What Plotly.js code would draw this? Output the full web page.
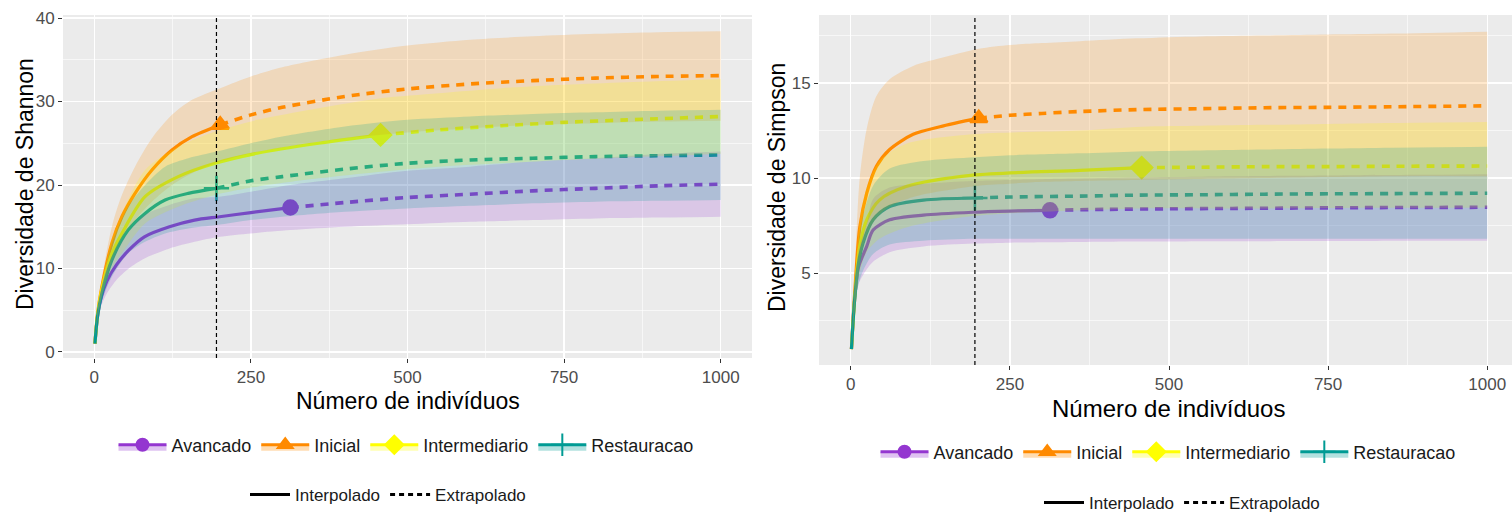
<!DOCTYPE html>
<html><head><meta charset="utf-8">
<script src="https://cdn.plot.ly/plotly-3.0.1.min.js"></script>
<style>html,body{margin:0;padding:0;background:#fff;overflow:hidden}#chart{width:1512px;height:513px}</style>
</head><body><div id="chart"></div>
<script>
// ---------------- DATA ----------------
const groups = ['Avancado', 'Inicial', 'Intermediario', 'Restauracao'];
const observedN = [313, 201, 457, 195];   // observed sample sizes (end of interpolation)
const refSize = 195;                       // reference sample size (vertical dashed line)
const xTicks = [0, 250, 500, 750, 1000];
const lineTypes = ['Interpolado', 'Extrapolado'];
const xTitle = 'Número de indivíduos';
const yTitles = ['Diversidade de Shannon', 'Diversidade de Simpson'];

// Shannon diversity (left panel)
const sh_x_av   = [1, 5, 10, 20, 35, 55, 80, 120, 160, 200, 250, 313, 400, 500, 600, 700, 800, 900, 1000];
const sh_est_av = [1, 4.2, 6.3, 8.5, 10.4, 12.2, 13.8, 15.0, 15.8, 16.2, 16.7, 17.3, 17.9, 18.5, 18.9, 19.3, 19.6, 19.9, 20.1];
const sh_lo_av  = [1, 3.6, 5.3, 7.0, 8.6, 10.0, 11.2, 12.4, 13.2, 13.8, 14.2, 14.6, 15.0, 15.3, 15.6, 15.8, 16.0, 16.1, 16.2];
const sh_hi_av  = [1, 4.8, 7.3, 10.0, 12.2, 14.4, 16.4, 17.6, 18.4, 18.6, 19.2, 20.0, 20.8, 21.7, 22.2, 22.8, 23.2, 23.7, 24.0];

const sh_x_in   = [1, 5, 12, 28, 44, 65, 92, 124, 156, 201, 250, 300, 400, 500, 600, 700, 800, 900, 1000];
const sh_est_in = [1, 4.5, 7.8, 13.0, 16.2, 19.0, 21.8, 24.2, 25.8, 27.2, 28.4, 29.3, 30.6, 31.5, 32.1, 32.5, 32.8, 33.0, 33.1];
const sh_lo_in  = [1, 4.0, 6.8, 11.0, 13.6, 15.8, 18.0, 20.0, 21.4, 22.8, 23.8, 24.5, 25.6, 26.3, 26.8, 27.2, 27.4, 27.6, 27.7];
const sh_hi_in  = [1, 5.0, 8.8, 15.0, 18.8, 22.2, 25.6, 28.4, 30.2, 31.6, 33.0, 34.1, 35.6, 36.7, 37.4, 37.8, 38.1, 38.3, 38.4];

const sh_x_im   = [1, 5, 12, 28, 44, 81, 134, 193, 260, 358, 457, 550, 650, 750, 850, 1000];
const sh_est_im = [1, 4.3, 7.5, 11.8, 14.2, 18.6, 21.0, 22.6, 23.8, 25.0, 26.0, 26.6, 27.1, 27.5, 27.8, 28.2];
const sh_lo_im  = [1, 3.9, 6.6, 10.0, 11.8, 15.4, 17.4, 18.8, 19.8, 20.8, 21.6, 22.2, 22.6, 23.0, 23.3, 23.7];
const sh_hi_im  = [1, 4.7, 8.4, 13.6, 16.6, 21.8, 24.6, 26.4, 27.8, 29.2, 30.4, 31.0, 31.6, 32.0, 32.3, 32.7];

const sh_x_re   = [1, 5, 12, 28, 54, 81, 113, 150, 195, 250, 300, 400, 500, 600, 700, 800, 900, 1000];
const sh_est_re = [1, 4.2, 7.0, 11.0, 14.6, 16.6, 18.2, 19.0, 19.6, 20.5, 21.0, 21.9, 22.6, 23.0, 23.2, 23.4, 23.5, 23.6];
const sh_lo_re  = [1, 3.7, 6.0, 9.0, 11.8, 13.2, 14.2, 14.8, 15.2, 15.8, 16.2, 16.8, 17.2, 17.5, 17.8, 18.0, 18.1, 18.2];
const sh_hi_re  = [1, 4.7, 8.0, 13.0, 17.4, 20.0, 22.2, 23.2, 24.0, 25.0, 25.8, 27.0, 27.8, 28.2, 28.5, 28.7, 28.9, 29.0];

// Simpson diversity (right panel)
const si_x_av   = [1, 5, 12, 25, 35, 61, 114, 192, 250, 313, 400, 500, 600, 700, 800, 900, 1000];
const si_est_av = [1, 3.2, 5.3, 6.4, 7.26, 7.8, 8.05, 8.2, 8.26, 8.3, 8.35, 8.38, 8.4, 8.42, 8.44, 8.45, 8.46];
const si_lo_av  = [1, 2.8, 4.4, 5.2, 5.6, 6.1, 6.4, 6.55, 6.6, 6.62, 6.65, 6.66, 6.67, 6.68, 6.69, 6.7, 6.7];
const si_hi_av  = [1, 3.6, 6.2, 7.6, 8.9, 9.5, 9.7, 9.85, 9.9, 9.95, 10.0, 10.05, 10.1, 10.12, 10.15, 10.17, 10.2];

const si_x_in   = [1, 6, 14, 25, 40, 61, 98, 140, 201, 250, 300, 360, 450, 550, 650, 750, 850, 1000];
const si_est_in = [1, 3.9, 7.4, 9.2, 10.6, 11.5, 12.3, 12.7, 13.15, 13.3, 13.4, 13.5, 13.6, 13.65, 13.7, 13.72, 13.75, 13.8];
const si_lo_in  = [1, 3.0, 5.6, 7.0, 7.9, 8.5, 9.0, 9.3, 9.6, 9.7, 9.8, 9.85, 9.9, 9.95, 10.0, 10.05, 10.1, 10.1];
const si_hi_in  = [1, 4.8, 10.0, 12.6, 14.3, 15.2, 15.9, 16.3, 16.8, 17.0, 17.1, 17.2, 17.35, 17.45, 17.5, 17.55, 17.6, 17.7];

const si_x_im   = [1, 6, 14, 25, 45, 87, 192, 360, 457, 550, 650, 750, 850, 1000];
const si_est_im = [1, 3.6, 6.4, 7.8, 8.84, 9.55, 10.15, 10.4, 10.55, 10.57, 10.6, 10.6, 10.62, 10.63];
const si_lo_im  = [1, 3.0, 5.0, 6.1, 6.8, 7.4, 8.0, 8.3, 8.4, 8.4, 8.4, 8.42, 8.43, 8.45];
const si_hi_im  = [1, 4.2, 7.8, 9.5, 10.9, 11.8, 12.3, 12.5, 12.7, 12.75, 12.8, 12.85, 12.9, 12.95];

const si_x_re   = [1, 6, 12, 19, 35, 61, 114, 195, 250, 360, 450, 550, 650, 750, 850, 1000];
const si_est_re = [1, 3.6, 5.5, 6.56, 7.8, 8.5, 8.84, 8.95, 9.0, 9.05, 9.1, 9.12, 9.15, 9.17, 9.18, 9.2];
const si_lo_re  = [1, 3.0, 4.4, 5.1, 6.0, 6.5, 6.7, 6.8, 6.8, 6.8, 6.8, 6.8, 6.8, 6.8, 6.8, 6.8];
const si_hi_re  = [1, 4.2, 6.6, 8.0, 9.6, 10.5, 10.9, 11.1, 11.2, 11.3, 11.4, 11.45, 11.5, 11.55, 11.6, 11.65];

// ---------------- STYLE ----------------
const colors = [[148, 54, 208], [255, 138, 0], [255, 255, 0], [0, 155, 148]];
const symbols = ['circle', 'triangle-up', 'diamond', 'cross-thin-open'];
const symSize = [14, 15, 16, 18];
const FONT = 'Liberation Sans, Arial, sans-serif';
const rgb = c => `rgb(${c[0]},${c[1]},${c[2]})`;
const rgba = (c, a) => `rgba(${c[0]},${c[1]},${c[2]},${a})`;
const SPL = {shape: 'spline', smoothing: 0.8};

const panels = [
  {xa: 'x', ya: 'y', sets: [
    [sh_x_av, sh_est_av, sh_lo_av, sh_hi_av], [sh_x_in, sh_est_in, sh_lo_in, sh_hi_in],
    [sh_x_im, sh_est_im, sh_lo_im, sh_hi_im], [sh_x_re, sh_est_re, sh_lo_re, sh_hi_re]]},
  {xa: 'x2', ya: 'y2', sets: [
    [si_x_av, si_est_av, si_lo_av, si_hi_av], [si_x_in, si_est_in, si_lo_in, si_hi_in],
    [si_x_im, si_est_im, si_lo_im, si_hi_im], [si_x_re, si_est_re, si_lo_re, si_hi_re]]}
];

const lineTraces = [], ribbonTraces = [];
panels.forEach(p => {
  p.sets.forEach((s, gi) => {
    const [x, est, lo, hi] = s;
    const n = observedN[gi];
    const c = colors[gi];
    const xi = [], yi = [], xe = [], ye = [];
    x.forEach((v, k) => {
      if (v <= n) { xi.push(v); yi.push(est[k]); }
      if (v >= n) { xe.push(v); ye.push(est[k]); }
    });
    lineTraces.push({x: xi, y: yi, xaxis: p.xa, yaxis: p.ya, mode: 'lines', showlegend: false,
      line: Object.assign({color: rgb(c), width: 3.2}, SPL), hoverinfo: 'skip'});
    lineTraces.push({x: xe, y: ye, xaxis: p.xa, yaxis: p.ya, mode: 'lines', showlegend: false,
      line: Object.assign({color: rgb(c), width: 3.6, dash: '8px,7px'}, SPL), hoverinfo: 'skip'});
    lineTraces.push({x: [xi[xi.length - 1]], y: [yi[yi.length - 1]], xaxis: p.xa, yaxis: p.ya, mode: 'markers',
      showlegend: false, hoverinfo: 'skip',
      marker: {symbol: symbols[gi], size: symSize[gi], color: rgb(c), line: {color: rgb(c), width: 2.5}}});
    ribbonTraces.push({x: x, y: lo, xaxis: p.xa, yaxis: p.ya, mode: 'lines', showlegend: false, hoverinfo: 'skip',
      line: Object.assign({width: 0, color: 'rgba(0,0,0,0)'}, SPL)});
    ribbonTraces.push({x: x, y: hi, xaxis: p.xa, yaxis: p.ya, mode: 'lines', fill: 'tonexty', fillcolor: rgba(c, 0.2),
      line: Object.assign({width: 0, color: 'rgba(0,0,0,0)'}, SPL), showlegend: false, hoverinfo: 'skip'});
  });
});

// legend-only traces
const legendTraces = [];
[['legend', 'x', 'y'], ['legend3', 'x2', 'y2']].forEach(([lg, xa, ya]) => {
  groups.forEach((g, gi) => {
    const c = colors[gi];
    legendTraces.push({x: [null], y: [null], xaxis: xa, yaxis: ya, name: g, legend: lg,
      mode: 'lines+markers', fill: 'toself', fillcolor: rgba(c, 0.3),
      line: {color: rgb(c), width: 3},
      marker: {symbol: symbols[gi], size: symSize[gi] - 2, color: rgb(c), line: {color: rgb(c), width: 2}}});
  });
});
[['legend2', 'x', 'y'], ['legend4', 'x2', 'y2']].forEach(([lg, xa, ya]) => {
  lineTypes.forEach((t, ti) => {
    legendTraces.push({x: [null], y: [null], xaxis: xa, yaxis: ya, name: t, legend: lg, mode: 'lines',
      line: {color: '#000', width: 3, dash: ti === 0 ? 'solid' : '5px,4px'}});
  });
});

const tickFont = {family: FONT, size: 17, color: '#4d4d4d'};
function xAxis(domain, range, anchor) {
  return {domain, range, anchor, tickvals: xTicks, ticks: 'outside', ticklen: 4, tickcolor: '#333',
    tickfont: tickFont, showgrid: true, gridcolor: '#fff', gridwidth: 1.3, zeroline: false, showline: false,
    minor: {dtick: 125, tick0: 0, showgrid: true, gridcolor: '#fff', gridwidth: 0.6, ticks: ''}, automargin: false};
}
function yAxis(domain, range, anchor, dtick) {
  return {domain, range, anchor, tick0: 0, dtick, ticks: 'outside', ticklen: 4, tickcolor: '#333',
    tickfont: tickFont, showgrid: true, gridcolor: '#fff', gridwidth: 1.3, zeroline: false, showline: false,
    minor: {dtick: dtick / 2, tick0: 0, showgrid: true, gridcolor: '#fff', gridwidth: 0.6, ticks: ''}, automargin: false};
}
const legendBase = {orientation: 'h', xanchor: 'center', yanchor: 'middle', xref: 'container', yref: 'container',
  traceorder: 'normal', font: {family: FONT, size: 18, color: '#1a1a1a'},
  bgcolor: 'rgba(0,0,0,0)', itemwidth: 48, itemclick: false, itemdoubleclick: false};
const legendBase2 = Object.assign({}, legendBase, {font: {family: FONT, size: 17, color: '#1a1a1a'}, itemwidth: 40});

const titleAnn = (text, x, y, size, angle) => ({text, xref: 'paper', yref: 'paper', x: x / 1512, y: 1 - y / 513,
  xanchor: 'center', yanchor: 'middle', showarrow: false, textangle: angle, font: {family: FONT, size, color: '#000'}});

const layout = {
  width: 1512, height: 513, margin: {l: 0, r: 0, t: 0, b: 0, autoexpand: false},
  paper_bgcolor: '#fff', plot_bgcolor: '#ebebeb', showlegend: true,
  xaxis: xAxis([63 / 1512, 752 / 1512], [-50, 1050], 'y'),
  yaxis: yAxis([155 / 513, 498 / 513], [-0.72, 40.36], 'x', 10),
  xaxis2: xAxis([819 / 1512, 1], [-50, 1039], 'y2'),
  yaxis2: yAxis([148 / 513, 498 / 513], [0.16, 18.58], 'x2', 5),
  legend: Object.assign({}, legendBase, {x: 406 / 1512, y: 68 / 513}),
  legend2: Object.assign({}, legendBase2, {x: 388 / 1512, y: 18 / 513}),
  legend3: Object.assign({}, legendBase, {x: 1168 / 1512, y: 61 / 513}),
  legend4: Object.assign({}, legendBase2, {x: 1182 / 1512, y: 10 / 513}),
  annotations: [
    titleAnn(xTitle, 408, 401, 23, 0),
    titleAnn(xTitle, 1168, 408, 24, 0),
    titleAnn(yTitles[0], 25, 184, 23, -90),
    titleAnn(yTitles[1], 777, 187, 23, -90)
  ],
  shapes: [
    {type: 'line', xref: 'x', yref: 'y domain', x0: refSize, x1: refSize, y0: 0, y1: 1, line: {color: '#000', width: 1.2, dash: '4px,3px'}},
    {type: 'line', xref: 'x2', yref: 'y2 domain', x0: refSize, x1: refSize, y0: 0, y1: 1, line: {color: '#000', width: 1.2, dash: '4px,3px'}}
  ]
};

Plotly.newPlot('chart', lineTraces.concat(ribbonTraces, legendTraces), layout, {displayModeBar: false, staticPlot: true});
</script></body></html>
